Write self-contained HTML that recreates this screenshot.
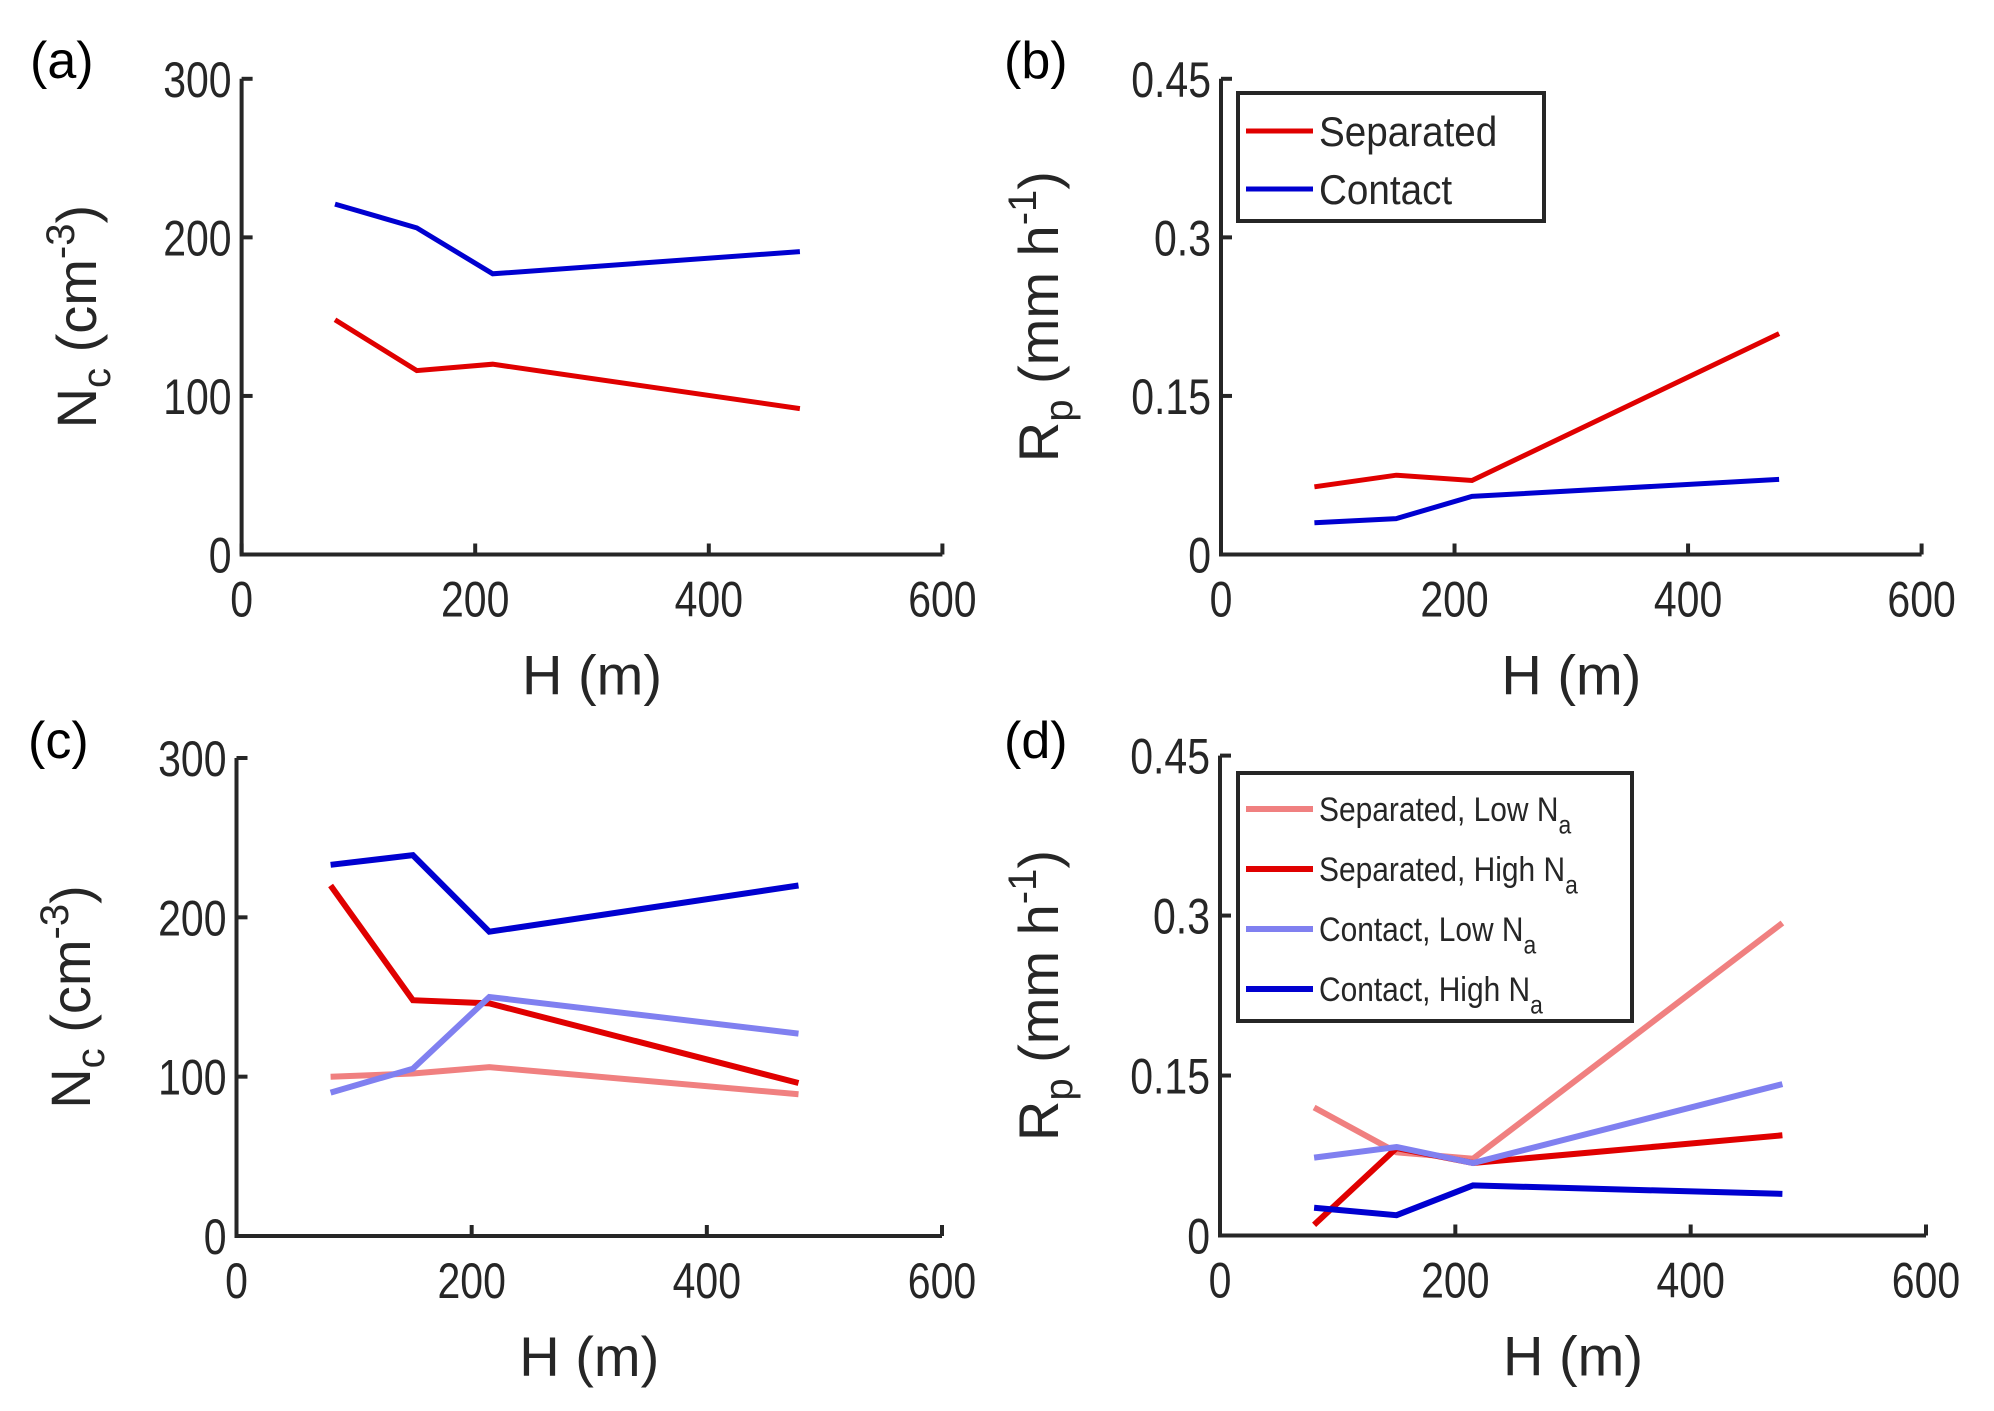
<!DOCTYPE html>
<html><head><meta charset="utf-8"><style>
html,body{margin:0;padding:0;background:#fff}
svg{display:block}
text{font-family:"Liberation Sans",sans-serif;fill:#262626}
.tick{font-size:50px}
.lab{font-size:56px}
.pl{font-size:52px;fill:#000}
.leg{font-size:42px}
.legs{font-size:34px}
</style></head><body>
<svg id="fig" width="1994" height="1411" viewBox="0 0 1994 1411"></svg>
<script>
const H = [80, 150, 215, 478];
const xTicks = [0, 200, 400, 600];
const ncTicks = [0, 100, 200, 300];
const rpTicks = [0, 0.15, 0.3, 0.45];
const rpTickLabels = ["0", "0.15", "0.3", "0.45"];
const aSeparated = [148, 116, 120, 92];
const aContact = [221, 206, 177, 191];
const bSeparated = [0.064, 0.075, 0.070, 0.209];
const bContact = [0.030, 0.034, 0.055, 0.071];
const cSepLow = [100, 102, 106, 89];
const cSepHigh = [220, 148, 146, 96];
const cConLow = [90, 105, 150, 127];
const cConHigh = [233, 239, 191, 220];
const dSepLow = [0.12, 0.078, 0.072, 0.293];
const dSepHigh = [0.01, 0.082, 0.068, 0.094];
const dConLow = [0.073, 0.083, 0.068, 0.142];
const dConHigh = [0.026, 0.019, 0.047, 0.039];

const NS = "http://www.w3.org/2000/svg";
const svg = document.getElementById('fig');
function mk(tag, attrs, parent, txt){
  const e = document.createElementNS(NS, tag);
  for (const k in attrs) e.setAttribute(k, attrs[k]);
  if (txt !== undefined) e.textContent = txt;
  (parent || svg).appendChild(e);
  return e;
}
function panel(cfg){
  const g = mk('g', {});
  
  
  const sx = v => cfg.x0 + (v - 0) / 600 * (cfg.x1 - cfg.x0);
  const sy = v => cfg.y0 - v / cfg.ymax * (cfg.y0 - cfg.y1);
  const ax = mk('path', {d:`M${cfg.x0} ${cfg.y1} L${cfg.x0} ${cfg.y0} L${cfg.x1} ${cfg.y0}`, stroke:'#262626', 'stroke-width':4, fill:'none'}, g);
  
  
  xTicks.forEach(t => {
    mk('line', {x1:sx(t), x2:sx(t), y1:cfg.y0, y2:cfg.y0-11, stroke:'#262626','stroke-width':4}, g);
    const tl = mk('text', {transform:`translate(${sx(t)},${cfg.y0+62}) scale(0.82,1)`, 'text-anchor':'middle', class:'tick'}, g, String(t));
    
    
  });
  cfg.yt.forEach((t, i) => {
    mk('line', {x1:cfg.x0, x2:cfg.x0+11, y1:sy(t), y2:sy(t), stroke:'#262626','stroke-width':4}, g);
    const tl = mk('text', {transform:`translate(${cfg.x0-10},${sy(t)+18}) scale(0.82,1)`, 'text-anchor':'end', class:'tick'}, g, cfg.ytl[i]);
    
    
  });
  const xl = mk('text', {x:(cfg.x0+cfg.x1)/2, y:cfg.y0+140, 'text-anchor':'middle', class:'lab'}, g, 'H (m)');
  
  
  const yl = mk('text', {transform:`translate(${cfg.ylx},${(cfg.y0+cfg.y1)/2}) rotate(-90)`, 'text-anchor':'middle', class:'lab'}, g);
  
  
  yl.innerHTML = cfg.ylab;
  const pl = mk('text', {x:cfg.plx, y:cfg.ply, class:'pl'}, g, cfg.label);
  
  
  cfg.series.forEach(s => {
    const d = H.map((h, i) => (i ? 'L' : 'M') + sx(h).toFixed(1) + ' ' + sy(s.v[i]).toFixed(1)).join(' ');
    const p = mk('path', {d, stroke:s.c, 'stroke-width':cfg.lw, fill:'none'}, g);
    
    
  });
  if (cfg.legend){
    const L = cfg.legend;
    const lg = mk('g', {}, g);
    
    
    mk('rect', {x:L.x, y:L.y, width:L.w, height:L.h, fill:'#fff', stroke:'#262626', 'stroke-width':4}, lg);
    cfg.series.forEach((s, i) => {
      const yy = L.y + L.top + i * L.step;
      mk('line', {x1:L.x+8, x2:L.x+75, y1:yy, y2:yy, stroke:s.c, 'stroke-width':cfg.lw}, lg);
      const t = mk('text', {transform:`translate(${L.x+81},${yy+L.fs*0.36}) scale(${L.sx},1)`, class:L.cls}, lg);
      
      
      t.innerHTML = s.lab;
    });
  }
}
const ncLab = 'N<tspan dy="14" font-size="40">c</tspan><tspan dy="-14"> (cm</tspan><tspan dy="-22" font-size="40">-3</tspan><tspan dy="22">)</tspan>';
const rpLab = 'R<tspan dy="14" font-size="40">p</tspan><tspan dy="-14"> (mm h</tspan><tspan dy="-22" font-size="40">-1</tspan><tspan dy="22">)</tspan>';
const na = s => s + ' N<tspan dy="12" font-size="26">a</tspan>';
panel({name:'panel-a', label:'(a)', plx:30, ply:78, x0:241.6, x1:942.4, y0:554.5, y1:78.8, ymax:300,
  yt:ncTicks, ytl:ncTicks.map(String), ylx:96, ylab:ncLab, lw:5,
  series:[{n:'line-separated', c:'#e00000', v:aSeparated},{n:'line-contact', c:'#0000d0', v:aContact}]});
panel({name:'panel-b', label:'(b)', plx:1004, ply:78, x0:1221, x1:1921.6, y0:554.5, y1:78.8, ymax:0.45,
  yt:rpTicks, ytl:rpTickLabels, ylx:1058, ylab:rpLab, lw:5,
  series:[{n:'line-separated', c:'#e00000', v:bSeparated, lab:'Separated'},{n:'line-contact', c:'#0000d0', v:bContact, lab:'Contact'}],
  legend:{x:1238, y:93, w:306, h:128, top:38, step:58, fs:42, cls:'leg', sx:0.92}});
panel({name:'panel-c', label:'(c)', plx:28, ply:758, x0:236.5, x1:942, y0:1236, y1:758, ymax:300,
  yt:ncTicks, ytl:ncTicks.map(String), ylx:90, ylab:ncLab, lw:6,
  series:[{n:'line-sep-low', c:'#f08080', v:cSepLow},{n:'line-sep-high', c:'#e00000', v:cSepHigh},
          {n:'line-con-low', c:'#8080f0', v:cConLow},{n:'line-con-high', c:'#0000d0', v:cConHigh}]});
panel({name:'panel-d', label:'(d)', plx:1004, ply:758, x0:1220, x1:1926, y0:1235.5, y1:755.6, ymax:0.45,
  yt:rpTicks, ytl:rpTickLabels, ylx:1058, ylab:rpLab, lw:6,
  series:[{n:'line-sep-low', c:'#f08080', v:dSepLow, lab:na('Separated, Low')},{n:'line-sep-high', c:'#e00000', v:dSepHigh, lab:na('Separated, High')},
          {n:'line-con-low', c:'#8080f0', v:dConLow, lab:na('Contact, Low')},{n:'line-con-high', c:'#0000d0', v:dConHigh, lab:na('Contact, High')}],
  legend:{x:1238, y:773, w:394, h:248, top:36, step:60, fs:34, cls:'legs', sx:0.88}});
</script>
</body></html>
